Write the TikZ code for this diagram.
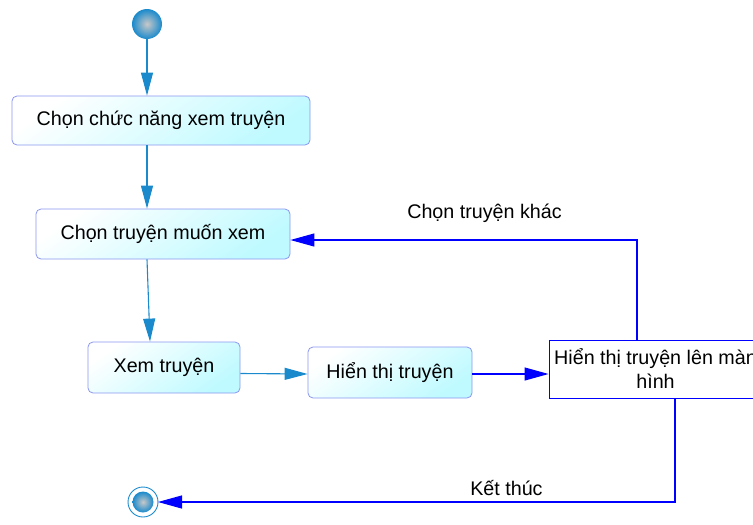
\documentclass[tikz,border=0pt]{standalone}
\usepackage{fontspec}
\setmainfont{Liberation Sans}
\usetikzlibrary{arrows.meta}

\definecolor{flowblue}{RGB}{26,138,204}
\definecolor{linkblue}{RGB}{0,0,255}
\definecolor{boxedge}{RGB}{140,150,240}
\definecolor{boxcyan}{RGB}{190,250,255}
\definecolor{dotgray}{RGB}{200,200,200}

\tikzset{
  act/.style={draw=boxedge, line width=0.8pt, rounded corners=5pt,
    top color=white, bottom color=boxcyan, shading angle=35,
    inner sep=0pt, font=\fontsize{19.7}{24}\selectfont},
  plainact/.style={draw=linkblue, line width=0.9pt, fill=white,
    inner sep=0pt, align=center, font=\fontsize{19.7}{24}\selectfont},
  flow/.style={draw=flowblue, line width=1.1pt,
    -{Triangle[length=23pt,width=12pt]}},
  link/.style={draw=linkblue, line width=1.1pt,
    -{Triangle[length=24pt,width=13pt]}},
  lbl/.style={inner sep=0pt, font=\fontsize{19.7}{24}\selectfont}
}

\begin{document}
\begin{tikzpicture}[x=1pt,y=-1pt]
  \useasboundingbox (0,0) rectangle (753,525);
  \clip (0,0) rectangle (753,525);

  % ================= start / end =================
  \shade[inner color=dotgray, outer color=flowblue] (147,24) circle (15);
  \coordinate (start) at (147,24);
  \coordinate (startb) at (147,39);
  \draw[flowblue, line width=0.9pt] (143,502) circle (15);
  \shade[inner color=dotgray, outer color=flowblue] (143,502) circle (10.5);
  \coordinate (stop) at (158,502);

  % ================= activities =================
  \node[act, minimum width=298, minimum height=49] (pick) at (161,120.5) {Chọn chức năng xem truyện};
  \node[act, minimum width=254, minimum height=50] (choose) at (163,234) {Chọn truyện muốn xem};
  \node[act, minimum width=152, minimum height=51] (read) at (164,367.5) {Xem truyện};
  \node[act, minimum width=164, minimum height=51] (show) at (390,372.5) {Hiển thị truyện};
  \node[plainact, minimum width=213, minimum height=58] (screen) at (655.5,369)
    {Hiển thị truyện lên màn\\hình};

  % ================= flows =================
  \draw[flow] (startb) -- (pick.north -| start);
  \draw[flow] (pick.south -| start) -- (choose.north -| start);
  \draw[flow] (choose.south -| start) -- ([xshift=-14pt]read.north);
  \draw[flow] ([yshift=-6pt]read.east) -- ([yshift=-1.5pt]show.west);
  \draw[link] ([yshift=-1.5pt]show.east) -- ([yshift=-5pt]screen.west);

  % quay lai chon truyen
  \draw[link] ([xshift=-18.5pt]screen.north) |- ([yshift=-6pt]choose.east)
    node[lbl, pos=0.72, above=17pt] (again) {Chọn truyện khác};
  % ket thuc
  \draw[link] ([xshift=19.5pt]screen.south) |- (stop)
    node[lbl, pos=0.663, above=6pt] (done) {Kết thúc};
\end{tikzpicture}
\end{document}
